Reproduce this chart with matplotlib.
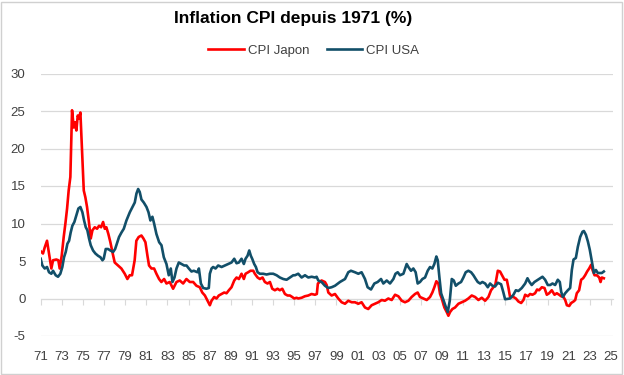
import matplotlib
matplotlib.use("Agg")
import matplotlib.pyplot as plt
from matplotlib.patches import Rectangle

# CPI Japon (% a/a)
jp_t = [1971.00, 1971.22, 1971.38, 1971.60, 1971.79, 1972.01, 1972.17, 1972.48, 1972.67, 1972.80,
        1972.99, 1973.18, 1973.34, 1973.50, 1973.65, 1973.81, 1973.97, 1974.13, 1974.25, 1974.38,
        1974.51, 1974.63, 1974.76, 1974.92, 1975.08, 1975.23, 1975.39, 1975.55, 1975.74, 1975.90,
        1976.12, 1976.34, 1976.53, 1976.72, 1976.91, 1977.07, 1977.22, 1977.41, 1977.60, 1977.79,
        1978.01, 1978.33, 1978.64, 1978.96, 1979.21, 1979.43, 1979.65, 1979.90, 1980.06, 1980.28,
        1980.54, 1980.73, 1980.92, 1981.11, 1981.26, 1981.49, 1981.74, 1981.96, 1982.21, 1982.43,
        1982.69, 1982.91, 1983.22, 1983.54, 1983.86, 1984.17, 1984.49, 1984.80, 1985.12, 1985.44,
        1985.75, 1986.07, 1986.30, 1986.55, 1986.80, 1987.02, 1987.18, 1987.43, 1987.65, 1987.87,
        1988.12, 1988.38, 1988.60, 1988.82, 1989.07, 1989.33, 1989.55, 1989.77, 1990.02, 1990.24,
        1990.40, 1990.65, 1990.87, 1991.13, 1991.28, 1991.54, 1991.76, 1992.01, 1992.23, 1992.48,
        1992.71, 1992.93, 1993.18, 1993.43, 1993.65, 1993.88, 1994.13, 1994.38, 1994.60, 1994.82,
        1995.01, 1995.23, 1995.39, 1995.71, 1996.02, 1996.34, 1996.65, 1996.97, 1997.15, 1997.25,
        1997.42, 1997.60, 1997.92, 1998.08, 1998.24, 1998.55, 1998.87, 1999.18, 1999.50, 1999.82,
        2000.13, 2000.45, 2000.76, 2001.08, 2001.39, 2001.71, 2002.02, 2002.34, 2002.65, 2002.97,
        2003.29, 2003.60, 2003.92, 2004.24, 2004.56, 2004.87, 2005.19, 2005.50, 2005.82, 2006.13,
        2006.45, 2006.70, 2006.92, 2007.24, 2007.56, 2007.87, 2008.09, 2008.28, 2008.47, 2008.66,
        2008.82, 2008.98, 2009.23, 2009.45, 2009.61, 2009.77, 2009.99, 2010.24, 2010.56, 2010.87,
        2011.19, 2011.50, 2011.82, 2012.14, 2012.45, 2012.77, 2013.09, 2013.40, 2013.65, 2013.87,
        2014.05, 2014.29, 2014.50, 2014.73, 2014.92, 2015.14, 2015.30, 2015.45, 2015.77, 2016.00,
        2016.24, 2016.50, 2016.72, 2016.88, 2017.13, 2017.35, 2017.57, 2017.82, 2018.01, 2018.20,
        2018.46, 2018.71, 2018.93, 2019.15, 2019.40, 2019.66, 2019.88, 2020.10, 2020.29, 2020.51,
        2020.67, 2020.83, 2021.05, 2021.24, 2021.46, 2021.62, 2021.77, 2021.99, 2022.18, 2022.37,
        2022.56, 2022.75, 2022.94, 2023.13, 2023.26, 2023.45, 2023.67, 2023.89, 2024.02, 2024.14,
        2024.33]
jp_v = [6.3, 6.0, 6.8, 7.7, 6.0, 4.0, 5.1, 5.2, 5.1, 4.0,
        5.7, 8.2, 10.0, 12.0, 14.4, 16.2, 25.1, 22.8, 23.5, 22.4,
        24.4, 24.0, 24.8, 19.7, 14.4, 13.5, 12.2, 10.4, 8.0, 9.1,
        9.5, 9.3, 9.7, 9.5, 10.2, 9.3, 9.5, 8.6, 7.5, 6.2,
        4.8, 4.4, 4.0, 3.3, 2.6, 3.1, 3.1, 5.1, 7.7, 8.2,
        8.4, 8.0, 7.5, 5.7, 4.4, 4.0, 4.0, 3.3, 2.6, 2.2,
        2.6, 2.0, 2.2, 1.3, 2.2, 2.4, 2.0, 2.6, 2.2, 2.2,
        1.7, 1.5, 0.8, 0.4, -0.3, -0.9, -0.3, 0.2, 0.0, 0.4,
        0.6, 0.8, 0.7, 1.1, 1.5, 2.4, 2.8, 2.6, 3.3, 2.6,
        3.3, 3.5, 3.7, 3.7, 3.3, 2.8, 2.6, 2.8, 2.2, 2.0,
        2.2, 1.3, 1.1, 1.3, 1.1, 1.3, 0.6, 0.4, 0.4, 0.2,
        0.0, 0.1, 0.0, 0.1, 0.3, 0.4, 0.6, 0.5, 0.6, 2.0,
        2.2, 2.4, 2.2, 1.8, 0.8, 0.4, 0.6, 0.0, -0.5, -0.7,
        -0.3, -0.5, -0.5, -0.7, -0.5, -1.2, -1.4, -0.9, -0.7, -0.5,
        -0.2, -0.3, 0.0, -0.2, 0.5, 0.3, -0.3, -0.5, -0.3, 0.2,
        0.6, 0.8, 0.2, 0.0, -0.2, 0.2, 0.8, 1.5, 2.3, 2.0,
        0.6, 0.0, -1.2, -1.8, -2.3, -1.8, -1.4, -1.2, -0.7, -0.5,
        -0.3, 0.0, 0.4, 0.2, -0.2, 0.1, -0.3, 0.2, 1.1, 1.5,
        1.8, 3.7, 3.6, 3.0, 2.5, 2.5, 1.4, 0.2, 0.2, 0.0,
        -0.4, -0.6, -0.2, 0.5, 0.3, 0.6, 0.5, 0.7, 1.2, 1.1,
        1.5, 1.4, 0.5, 0.7, 1.1, 0.5, 0.7, 0.5, 0.3, 0.2,
        -0.2, -0.9, -1.0, -0.6, -0.4, -0.2, 0.7, 1.1, 2.5, 2.7,
        3.1, 3.6, 4.0, 4.5, 3.8, 3.1, 3.1, 2.8, 2.2, 2.8,
        2.7]

# CPI USA (% a/a)
us_t = [1971.00, 1971.16, 1971.38, 1971.60, 1971.79, 1972.01, 1972.17, 1972.42, 1972.64, 1972.86,
        1973.05, 1973.21, 1973.37, 1973.53, 1973.69, 1973.84, 1974.00, 1974.19, 1974.38, 1974.57,
        1974.76, 1974.95, 1975.11, 1975.27, 1975.42, 1975.58, 1975.74, 1975.96, 1976.18, 1976.43,
        1976.66, 1976.85, 1976.97, 1977.16, 1977.38, 1977.60, 1977.86, 1978.05, 1978.24, 1978.42,
        1978.65, 1978.87, 1979.12, 1979.44, 1979.69, 1979.91, 1980.07, 1980.23, 1980.38, 1980.54,
        1980.76, 1981.02, 1981.21, 1981.39, 1981.58, 1981.74, 1981.96, 1982.22, 1982.44, 1982.66,
        1982.91, 1983.13, 1983.32, 1983.48, 1983.67, 1983.86, 1984.08, 1984.33, 1984.59, 1984.81,
        1985.03, 1985.28, 1985.50, 1985.85, 1985.98, 1986.17, 1986.39, 1986.70, 1986.92, 1987.02,
        1987.18, 1987.33, 1987.56, 1987.81, 1988.13, 1988.44, 1988.76, 1989.07, 1989.33, 1989.55,
        1989.77, 1990.02, 1990.24, 1990.40, 1990.59, 1990.75, 1990.90, 1991.03, 1991.22, 1991.38,
        1991.54, 1991.76, 1992.07, 1992.39, 1992.71, 1993.02, 1993.34, 1993.65, 1993.97, 1994.29,
        1994.60, 1994.92, 1995.08, 1995.39, 1995.71, 1996.03, 1996.34, 1996.66, 1996.97, 1997.13,
        1997.29, 1997.60, 1997.92, 1998.24, 1998.55, 1998.87, 1999.34, 1999.82, 2000.13, 2000.38,
        2000.76, 2001.08, 2001.39, 2001.71, 2001.96, 2002.28, 2002.60, 2002.91, 2003.23, 2003.45,
        2003.77, 2004.08, 2004.40, 2004.60, 2004.81, 2005.03, 2005.35, 2005.66, 2005.82, 2006.07,
        2006.29, 2006.51, 2006.70, 2006.92, 2007.15, 2007.40, 2007.65, 2007.87, 2008.09, 2008.28,
        2008.47, 2008.60, 2008.76, 2008.92, 2009.14, 2009.36, 2009.55, 2009.74, 2009.93, 2010.12,
        2010.31, 2010.56, 2010.81, 2011.03, 2011.25, 2011.50, 2011.76, 2011.98, 2012.20, 2012.39,
        2012.61, 2012.83, 2013.09, 2013.34, 2013.56, 2013.78, 2014.03, 2014.29, 2014.60, 2014.80,
        2014.98, 2015.45, 2015.77, 2016.00, 2016.24, 2016.56, 2016.88, 2017.10, 2017.29, 2017.50,
        2017.76, 2018.08, 2018.30, 2018.52, 2018.77, 2019.02, 2019.25, 2019.47, 2019.72, 2019.97,
        2020.16, 2020.29, 2020.45, 2020.67, 2020.92, 2021.14, 2021.30, 2021.46, 2021.68, 2021.87,
        2022.09, 2022.31, 2022.44, 2022.63, 2022.82, 2023.00, 2023.20, 2023.39, 2023.58, 2023.76,
        2023.98, 2024.14, 2024.33]
us_v = [5.3, 4.4, 4.0, 4.2, 3.5, 3.3, 3.7, 3.1, 2.9, 3.3,
        4.2, 5.5, 6.2, 7.3, 7.7, 8.8, 9.7, 10.2, 11.1, 12.0,
        12.2, 11.5, 10.4, 9.5, 9.1, 8.0, 7.1, 6.4, 6.0, 5.7,
        5.5, 5.1, 5.3, 6.6, 6.6, 6.4, 6.2, 6.6, 7.4, 8.2,
        8.8, 9.3, 10.4, 11.5, 12.2, 12.8, 14.0, 14.6, 14.2, 13.2,
        12.8, 12.2, 11.5, 10.4, 10.9, 10.0, 8.6, 7.5, 7.1, 5.5,
        4.6, 3.1, 4.0, 2.2, 2.8, 4.0, 4.8, 4.6, 4.4, 4.4,
        4.0, 3.6, 3.7, 3.5, 4.0, 2.0, 1.4, 1.3, 1.4, 3.3,
        4.0, 4.2, 4.0, 4.4, 4.2, 4.4, 4.6, 4.8, 5.3, 4.7,
        4.8, 5.3, 4.6, 5.3, 5.7, 6.4, 5.7, 5.3, 4.6, 4.2,
        3.5, 3.3, 3.3, 3.2, 3.3, 3.3, 3.1, 2.8, 2.6, 2.5,
        2.8, 3.1, 3.1, 3.3, 2.8, 3.1, 2.8, 2.9, 2.8, 2.9,
        2.4, 2.2, 1.7, 1.4, 1.5, 1.7, 2.2, 2.6, 3.5, 3.7,
        3.5, 3.3, 3.5, 2.6, 1.5, 1.2, 2.0, 2.2, 2.6, 2.0,
        2.4, 2.0, 2.6, 3.3, 3.5, 3.1, 3.3, 4.6, 4.2, 3.7,
        4.0, 3.5, 2.0, 2.2, 2.6, 2.8, 3.7, 4.2, 4.0, 4.6,
        5.6, 5.1, 2.8, 0.7, -0.2, -1.1, -1.8, -0.3, 2.6, 2.4,
        1.7, 2.0, 2.2, 2.8, 3.5, 3.7, 3.5, 3.1, 2.6, 2.2,
        2.0, 2.2, 2.0, 1.5, 2.0, 1.7, 1.6, 2.1, 1.9, 0.9,
        -0.1, 0.0, 0.5, 1.1, 1.0, 1.4, 2.0, 2.7, 2.2, 1.8,
        2.2, 2.5, 2.7, 2.9, 2.5, 1.8, 1.8, 2.0, 1.8, 2.5,
        2.2, 0.9, 0.2, 0.7, 1.1, 1.4, 3.8, 5.2, 5.4, 6.9,
        8.2, 8.9, 9.0, 8.5, 7.6, 6.5, 4.9, 3.4, 3.8, 3.4,
        3.4, 3.4, 3.6]

years = list(range(1971, 2026, 2))
year_labels = [f"{y % 100:02d}" for y in years]

plt.rcParams['font.family'] = ['Liberation Sans', 'DejaVu Sans']
plt.rcParams['axes.unicode_minus'] = False

fig = plt.figure(figsize=(6.24, 3.75), dpi=100)
ax = fig.add_axes([0.0652, 0.104, 0.9172, 0.70])

ax.plot(jp_t, jp_v, color='#FF0000', lw=1.9, label='CPI Japon', zorder=3)
ax.plot(us_t, us_v, color='#124F69', lw=1.9, label='CPI USA', zorder=4)

ax.set_xlim(1971, 2025.2)
ax.set_ylim(-5, 30)
ax.set_yticks(range(-5, 31, 5))
ax.grid(axis='y', color='#D9D9D9', lw=0.9)
ax.set_axisbelow(True)
for s in ['top', 'right', 'left']:
    ax.spines[s].set_visible(False)

# horizontal axis crosses at 0, labels stay at the bottom
ax.spines['bottom'].set_position(('data', 0))
ax.spines['bottom'].set_color('#D9D9D9')
ax.set_xticks(years)
ax.tick_params(axis='x', direction='out', length=4, color='#D9D9D9', labelbottom=False)
ax.tick_params(axis='y', length=0, pad=11, labelsize=9.5, labelcolor='#404040')

sec = ax.secondary_xaxis('bottom')
sec.set_xticks(years, year_labels)
sec.tick_params(length=0, pad=11, labelsize=9.5, labelcolor='#404040')
sec.spines['bottom'].set_visible(False)

fig.text(0.4696, 0.952, 'Inflation CPI depuis 1971 (%)', ha='center', va='center',
         fontsize=12.5, fontweight='bold', color='#000000')
fig.legend(loc='center', bbox_to_anchor=(0.503, 0.864), ncol=2, frameon=False, fontsize=9.5,
           handlelength=2.7, handletextpad=0.3, columnspacing=1.3, labelcolor='#404040')

fig.patches.append(Rectangle((0.002, 0.003), 0.994, 0.993, transform=fig.transFigure,
                             fill=False, edgecolor='#D0D0D0', lw=1))

fig.savefig('out.png', dpi=100)
